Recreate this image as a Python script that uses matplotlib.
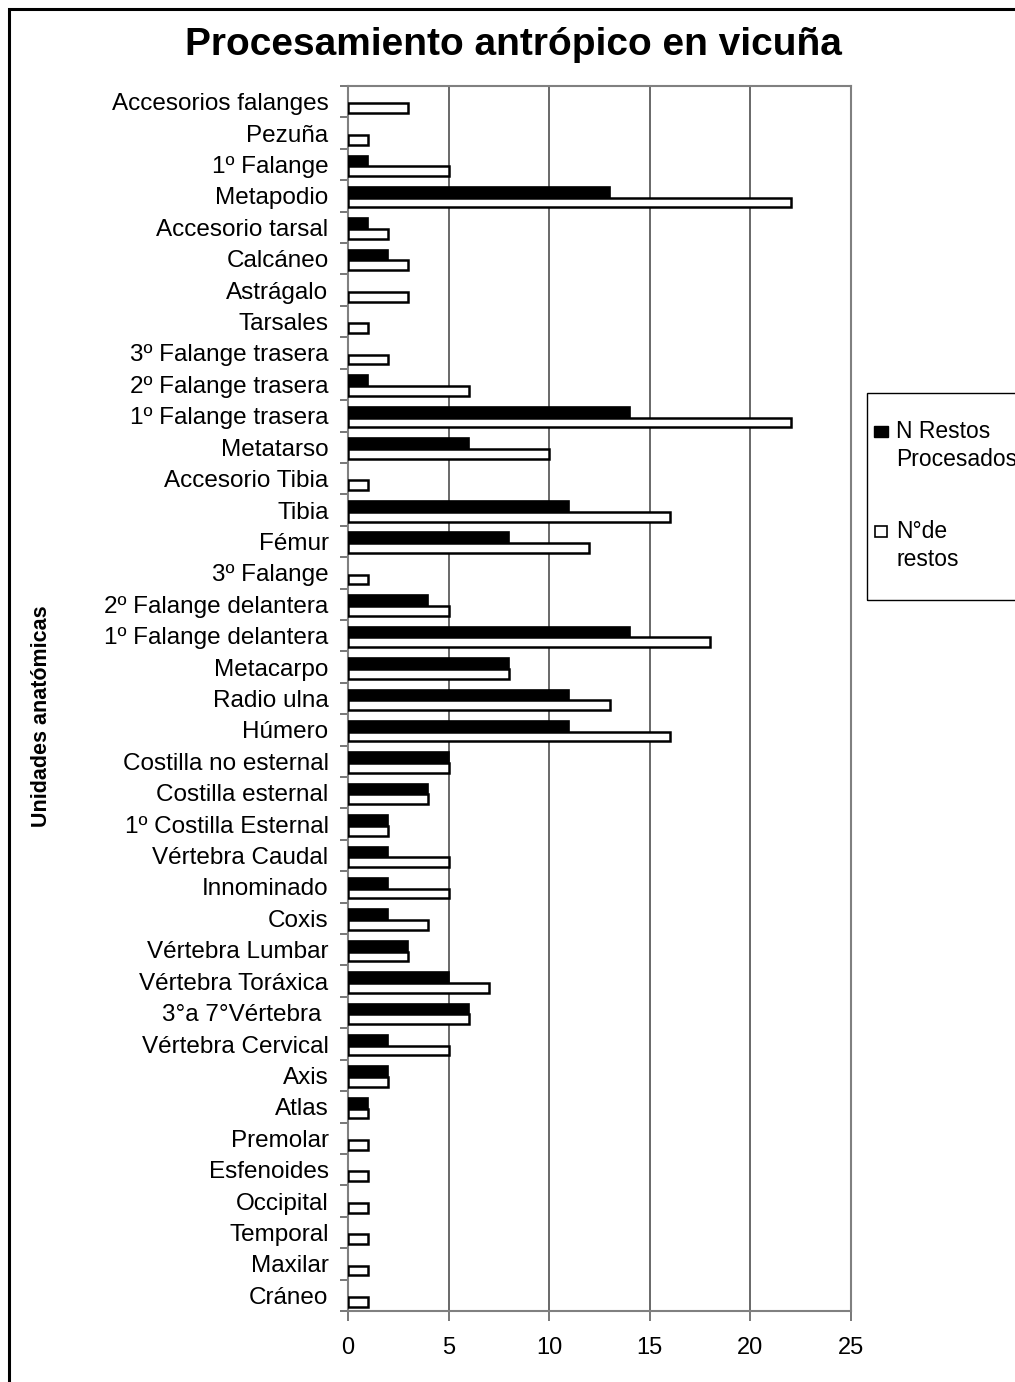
import matplotlib
matplotlib.use("Agg")
import matplotlib.pyplot as plt
import numpy as np
from matplotlib.patches import Rectangle

plt.rcParams['font.family'] = ['Liberation Sans', 'DejaVu Sans']

# Anatomical units, top to bottom
units = [
    "Accesorios falanges", "Pezuña", "1º Falange", "Metapodio",
    "Accesorio tarsal", "Calcáneo", "Astrágalo", "Tarsales",
    "3º Falange trasera", "2º Falange trasera", "1º Falange trasera",
    "Metatarso", "Accesorio Tibia", "Tibia", "Fémur", "3º Falange",
    "2º Falange delantera", "1º Falange delantera", "Metacarpo",
    "Radio ulna", "Húmero", "Costilla no esternal", "Costilla esternal",
    "1º Costilla Esternal", "Vértebra Caudal", "Innominado", "Coxis",
    "Vértebra Lumbar", "Vértebra Toráxica", "3°a 7°Vértebra ",
    "Vértebra Cervical", "Axis", "Atlas", "Premolar", "Esfenoides",
    "Occipital", "Temporal", "Maxilar", "Cráneo",
]
procesados = [0, 0, 1, 13, 1, 2, 0, 0, 0, 1, 14, 6, 0, 11, 8, 0, 4, 14, 8,
              11, 11, 5, 4, 2, 2, 2, 2, 3, 5, 6, 2, 2, 1, 0, 0, 0, 0, 0, 0]
restos = [3, 1, 5, 22, 2, 3, 3, 1, 2, 6, 22, 10, 1, 16, 12, 1, 5, 18, 8,
          13, 16, 5, 4, 2, 5, 5, 4, 3, 7, 6, 5, 2, 1, 1, 1, 1, 1, 1, 1]
x_ticks = [0, 5, 10, 15, 20, 25]

W, H = 1015, 1382
fig = plt.figure(figsize=(W / 100, H / 100), dpi=100)
ax = fig.add_axes([348 / W, 1 - 1311 / H, 503 / W, 1225 / H])

n = len(units)
pos = np.arange(n)
proc = np.array(procesados)
rest = np.array(restos)

ax.barh(pos + 0.385, proc, height=0.34, color='black', edgecolor='black',
        linewidth=np.where(proc > 0, 1.2, 0), zorder=3)
ax.barh(pos + 0.71, rest, height=0.31, color='white', edgecolor='black',
        linewidth=np.where(rest > 0, 1.8, 0), zorder=3)

ax.set_xlim(0, 25)
ax.set_ylim(n, 0)
ax.set_xticks(x_ticks)
ax.set_xticklabels([str(t) for t in x_ticks], fontsize=17)
ax.xaxis.grid(True, color='#404040', linewidth=1.1, zorder=0)
ax.tick_params(axis='x', direction='out', length=7, color='#606060',
               width=1.2, pad=12)

# category boundaries carry the ticks, centres carry the labels
ax.set_yticks(np.arange(n + 1))
ax.set_yticklabels([])
ax.set_yticks(pos + 0.5, minor=True)
ax.set_yticklabels(units, minor=True, fontsize=17.5)
ax.tick_params(axis='y', which='major', direction='out', length=6,
               color='#606060', width=1.2)
ax.tick_params(axis='y', which='minor', length=0, pad=14)

for s in ax.spines.values():
    s.set_color('#808080')
    s.set_linewidth(1.5)

fig.text(513 / W, 1 - 45 / H, "Procesamiento antrópico en vicuña",
         ha='center', va='center', fontsize=28, fontweight='bold')
fig.text(42 / W, 1 - 716 / H, "Unidades anatómicas", rotation=90,
         ha='center', va='center', fontsize=15.5, fontweight='bold')

# outer frame of the figure (right and bottom edges fall off the canvas)
fig.add_artist(Rectangle((8.5 / W, -0.1), 1.2, 1 - 8.5 / H + 0.1,
                         transform=fig.transFigure, fill=False,
                         edgecolor='black', linewidth=2.2))

# legend box
fig.add_artist(Rectangle((867 / W, 1 - 600 / H), 160 / W, 207 / H,
                         transform=fig.transFigure, fill=False,
                         edgecolor='black', linewidth=1.0))
fig.add_artist(Rectangle((874 / W, 1 - 437 / H), 14 / W, 11 / H,
                         transform=fig.transFigure, facecolor='black',
                         edgecolor='black', linewidth=1.0))
fig.add_artist(Rectangle((875 / W, 1 - 537 / H), 12 / W, 11 / H,
                         transform=fig.transFigure, facecolor='white',
                         edgecolor='black', linewidth=1.2))
legend_lines = [("N Restos", 438), ("Procesados", 466),
                ("N°de", 538), ("restos", 566)]
for txt, yb in legend_lines:
    fig.text(896 / W, 1 - yb / H, txt, ha='left', va='baseline',
             fontsize=16.5)

fig.savefig("out.png", dpi=100)
